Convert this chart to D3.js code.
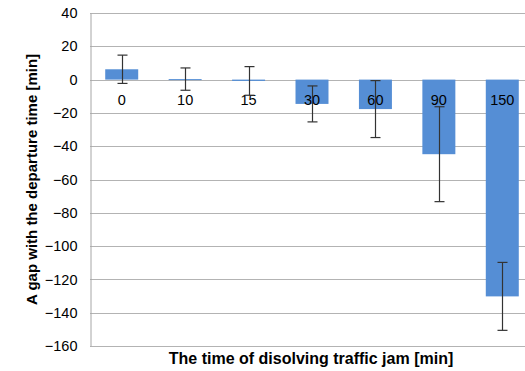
<!DOCTYPE html>
<html><head><meta charset="utf-8">
<script src="https://cdn.jsdelivr.net/npm/d3@7"></script>
<style>body{margin:0;background:#fff;}svg{display:block;font-family:"Liberation Sans",Arial,Helvetica,sans-serif;}</style>
</head><body>
<svg id="c" width="525" height="371"></svg>
<script>
const categories = ["0","10","15","30","60","90","150"];
const values = [6.2, 0.3, -0.8, -14.6, -17.7, -44.8, -130.2];
const errors = [8.5, 6.7, 8.6, 10.8, 17.1, 28.5, 20.4];
const yTicks = [40,20,0,-20,-40,-60,-80,-100,-120,-140,-160];
const xTitle = "The time of disolving traffic jam [min]";
const yTitle = "A gap with the departure time [min]";

const svg = d3.select("#c");
const L = 90, R = 534, T = 13, B = 346;
const x = d3.scaleBand().domain(categories).range([L, R]).paddingInner(0.48).paddingOuter(0.24);
const y = d3.scaleLinear().domain([-160, 40]).range([B, T]);

// gridlines
svg.append("g").selectAll("line").data(yTicks).join("line")
  .attr("x1", L).attr("x2", R)
  .attr("y1", d => Math.round(y(d)) + 0.5).attr("y2", d => Math.round(y(d)) + 0.5)
  .attr("stroke", "#b3b3b3").attr("stroke-width", 1);

// y axis
const ya = svg.append("g").attr("transform", `translate(${L + 0.5},0)`)
  .call(d3.axisLeft(y).tickValues(yTicks).tickSize(0).tickPadding(13));
ya.select(".domain").attr("stroke", "#a6a6a6");
ya.selectAll("text").attr("font-size", 14.5).attr("fill", "#000");

// bars
svg.append("g").selectAll("rect").data(values).join("rect")
  .attr("x", (d, i) => x(categories[i]))
  .attr("width", x.bandwidth())
  .attr("y", d => y(Math.max(0, d)))
  .attr("height", d => Math.max(1, Math.abs(y(d) - y(0))))
  .attr("fill", "#558ed5");

// category labels
svg.append("g").selectAll("text").data(categories).join("text")
  .attr("x", d => x(d) + x.bandwidth() / 2)
  .attr("y", y(0) + 25)
  .attr("text-anchor", "middle").attr("font-size", 14.5).attr("fill", "#000")
  .text(d => d);

// error bars
const eg = svg.append("g").attr("stroke", "#333").attr("stroke-width", 1.2);
values.forEach((v, i) => {
  const cx = Math.round(x(categories[i]) + x.bandwidth() / 2) + 0.5;
  const y1 = y(v + errors[i]), y2 = y(v - errors[i]);
  eg.append("line").attr("x1", cx).attr("x2", cx).attr("y1", y1).attr("y2", y2);
  eg.append("line").attr("x1", cx - 5).attr("x2", cx + 5).attr("y1", y1).attr("y2", y1);
  eg.append("line").attr("x1", cx - 5).attr("x2", cx + 5).attr("y1", y2).attr("y2", y2);
});

// titles
svg.append("text").attr("x", 311).attr("y", 364)
  .attr("text-anchor", "middle").attr("font-size", 16).attr("font-weight", "bold").text(xTitle);
svg.append("text").attr("transform", `translate(37,${(T + B) / 2}) rotate(-90)`)
  .attr("text-anchor", "middle").attr("font-size", 15).attr("font-weight", "bold").text(yTitle);
</script>
</body></html>
